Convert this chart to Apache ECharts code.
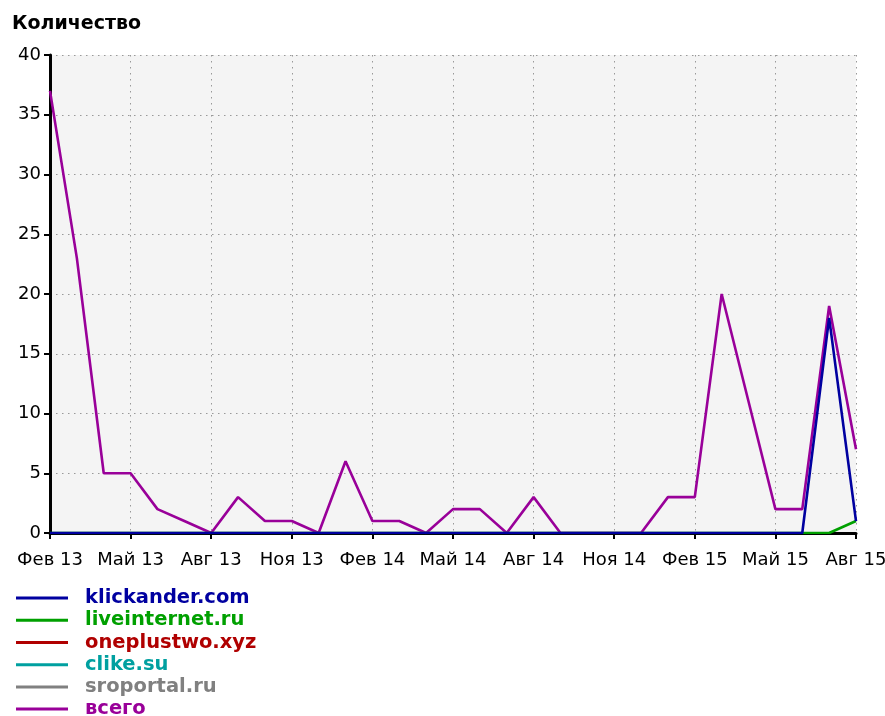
<!DOCTYPE html>
<html>
<head>
<meta charset="utf-8">
<script src="https://cdn.jsdelivr.net/npm/echarts@6/dist/echarts.min.js"></script>
<style>
  html, body { margin: 0; padding: 0; background: #ffffff; }
  #chart { width: 885px; height: 716px; }
</style>
</head>
<body>
<div id="chart"></div>
<script>
// Monthly counts, February 2013 to August 2015
const months = [
  'Фев 13', 'Мар 13', 'Апр 13', 'Май 13', 'Июн 13', 'Июл 13', 'Авг 13', 'Сен 13', 'Окт 13', 'Ноя 13', 'Дек 13',
  'Янв 14', 'Фев 14', 'Мар 14', 'Апр 14', 'Май 14', 'Июн 14', 'Июл 14', 'Авг 14', 'Сен 14', 'Окт 14', 'Ноя 14', 'Дек 14',
  'Янв 15', 'Фев 15', 'Мар 15', 'Апр 15', 'Май 15', 'Июн 15', 'Июл 15', 'Авг 15'
];

const klickander   = [0,0,0,0,0,0,0,0,0,0,0, 0,0,0,0,0,0,0,0,0,0,0,0, 0,0,0,0,0,0,18,1];
const liveinternet = [0,0,0,0,0,0,0,0,0,0,0, 0,0,0,0,0,0,0,0,0,0,0,0, 0,0,0,0,0,0,0,1];
// no recorded points for these sites within the period
const oneplustwo   = [];
const clike        = [];
const sroportal    = [];
const total        = [37,23,5,5,2,1,0,3,1,1,0, 6,1,1,0,2,2,0,3,0,0,0,0, 3,3,20,11,2,2,19,7];

const seriesNames  = ['klickander.com', 'liveinternet.ru', 'oneplustwo.xyz', 'clike.su', 'sroportal.ru', 'всего'];
const seriesColors = ['#0000a0', '#00a000', '#b00000', '#00a0a0', '#808080', '#990099'];
const seriesValues = [klickander, liveinternet, oneplustwo, clike, sroportal, total];

const chart = echarts.init(document.getElementById('chart'), null, { renderer: 'canvas' });

const axisFont = 'DejaVu Sans';
const gridDots = { color: '#999', type: [1.5, 4.5], width: 1 };

// draw the total first so the individual sites sit on top of it
const drawOrder = [5, 4, 3, 2, 1, 0];
const series = drawOrder.map(i => ({
  name: seriesNames[i],
  type: 'line',
  data: seriesValues[i],
  symbol: 'none',
  showSymbol: false,
  animation: false,
  lineStyle: { color: seriesColors[i], width: 2.6 },
  itemStyle: { color: seriesColors[i] },
  emphasis: { disabled: true }
}));

chart.setOption({
  backgroundColor: '#ffffff',
  animation: false,
  title: {
    text: 'Количество',
    left: 7,
    top: 10,
    textStyle: { fontFamily: axisFont, fontWeight: 'bold', fontSize: 19, color: '#000' }
  },
  grid: {
    left: 50, right: 29, top: 55, bottom: 183,
    outerBoundsMode: 'none',
    containLabel: false,
    show: true, backgroundColor: '#f4f4f4', borderWidth: 0
  },
  legend: {
    orient: 'vertical',
    left: 16,
    top: 587,
    height: 200,
    padding: 0,
    itemWidth: 52,
    itemHeight: 3,
    itemGap: 0,
    icon: 'rect',
    selectedMode: false,
    textStyle: {
      fontFamily: axisFont, fontWeight: 'bold', fontSize: 19.5,
      lineHeight: 22.2, padding: [0, 0, 0, 12]
    },
    data: seriesNames.map((n, i) => ({
      name: n,
      itemStyle: { color: seriesColors[i] },
      textStyle: { color: seriesColors[i] }
    }))
  },
  xAxis: {
    type: 'category',
    data: months,
    boundaryGap: false,
    axisLine: { show: true, onZero: false, lineStyle: { color: '#000', width: 3 } },
    axisTick: { show: true, interval: 2, length: 6, lineStyle: { color: '#000', width: 2 } },
    axisLabel: {
      interval: 2, margin: 18, color: '#000',
      fontFamily: axisFont, fontSize: 18, showMaxLabel: true
    },
    splitLine: { show: true, interval: 2, lineStyle: gridDots }
  },
  yAxis: {
    type: 'value',
    min: 0, max: 40, interval: 5,
    axisLine: { show: true, lineStyle: { color: '#000', width: 3 } },
    axisTick: { show: true, length: 6, lineStyle: { color: '#000', width: 2 } },
    axisLabel: { margin: 9, color: '#000', fontFamily: axisFont, fontSize: 18 },
    splitLine: { show: true, lineStyle: gridDots }
  },
  series: series
});
</script>
</body>
</html>
